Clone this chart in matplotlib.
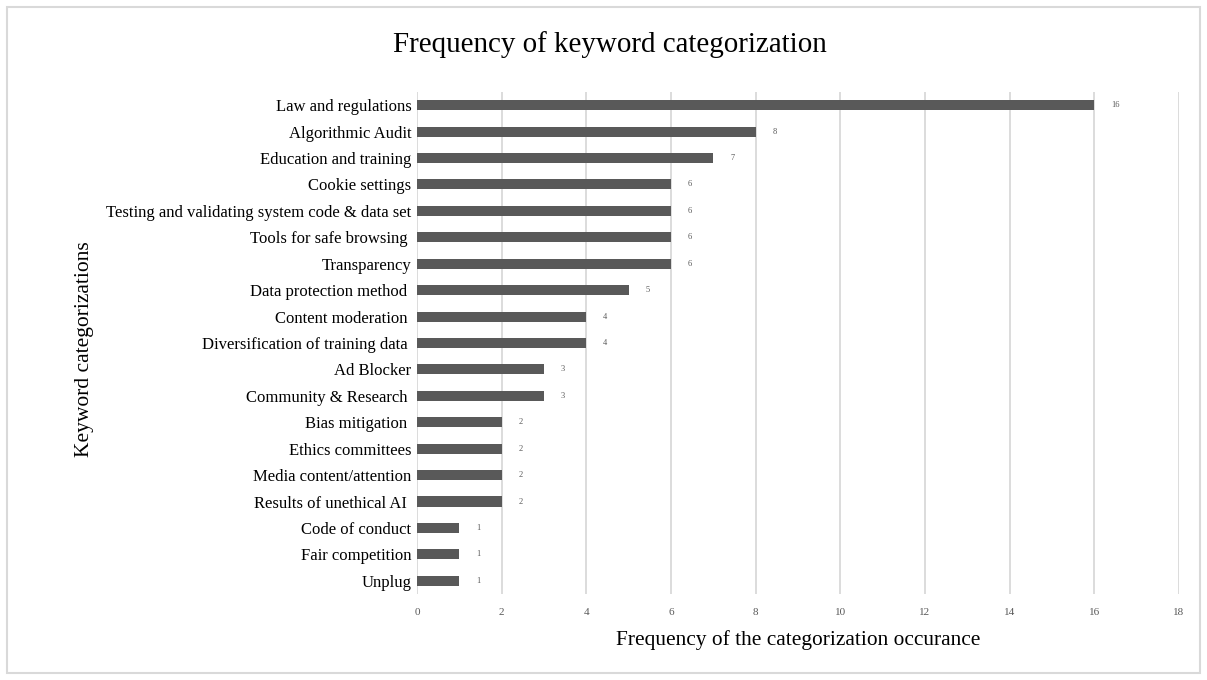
import matplotlib.pyplot as plt
from matplotlib.patches import Rectangle

categories = ['Law and regulations', 'Algorithmic Audit', 'Education and training',
              'Cookie settings', 'Testing and validating system code & data set',
              'Tools for safe browsing ', 'Transparency', 'Data protection method ',
              'Content moderation ', 'Diversification of training data ', 'Ad Blocker',
              'Community & Research ', 'Bias mitigation ', 'Ethics committees',
              'Media content/attention', 'Results of unethical AI ', 'Code of conduct',
              'Fair competition', 'Unplug']
values = [16, 8, 7, 6, 6, 6, 6, 5, 4, 4, 3, 3, 2, 2, 2, 2, 1, 1, 1]
xticks = list(range(0, 19, 2))

plt.rcParams['font.family'] = ['Liberation Serif', 'DejaVu Serif']

fig = plt.figure(figsize=(12.07, 6.80), dpi=100)
ax = fig.add_axes([0.3455, 0.1265, 0.6313, 0.7382])

y = list(range(len(categories)))
ax.barh(y, values, height=0.38, color='#595959', zorder=3)
for yi, v in zip(y, values):
    ax.annotate(str(v), (v, yi), xytext=(12, 0), textcoords='offset points',
                ha='left', va='center', fontsize=6, color='#595959')

ax.set_yticks(y)
ax.set_yticklabels(categories, fontsize=12, color='black')
ax.set_ylim(len(categories) - 0.5, -0.5)
ax.set_xlim(0, 18)
ax.set_xticks(xticks)
ax.set_xticklabels([str(t) for t in xticks], fontsize=8, color='#595959')
ax.tick_params(length=0)
ax.tick_params(axis='y', pad=4)
ax.tick_params(axis='x', pad=10)
ax.grid(axis='x', color='#d9d9d9', linewidth=1.3, zorder=0)
for s in ax.spines.values():
    s.set_visible(False)

# axis titles and chart title
fig.text(798 / 1207, 1 - 640 / 680, 'Frequency of the categorization occurance',
         fontsize=15.4, ha='center', va='center')
fig.text(84 / 1207, 1 - 349 / 680, 'Keyword categorizations', rotation=90,
         fontsize=15.5, ha='center', va='center')
fig.text(610 / 1207, 1 - 45 / 680, 'Frequency of keyword categorization',
         fontsize=20.9, ha='center', va='center')

fig.patches.append(Rectangle((7 / 1207, 7 / 680), 1193 / 1207, 666 / 680,
                             transform=fig.transFigure, fill=False,
                             edgecolor='#d9d9d9', linewidth=1.5))

fig.savefig('out.png', dpi=100)
